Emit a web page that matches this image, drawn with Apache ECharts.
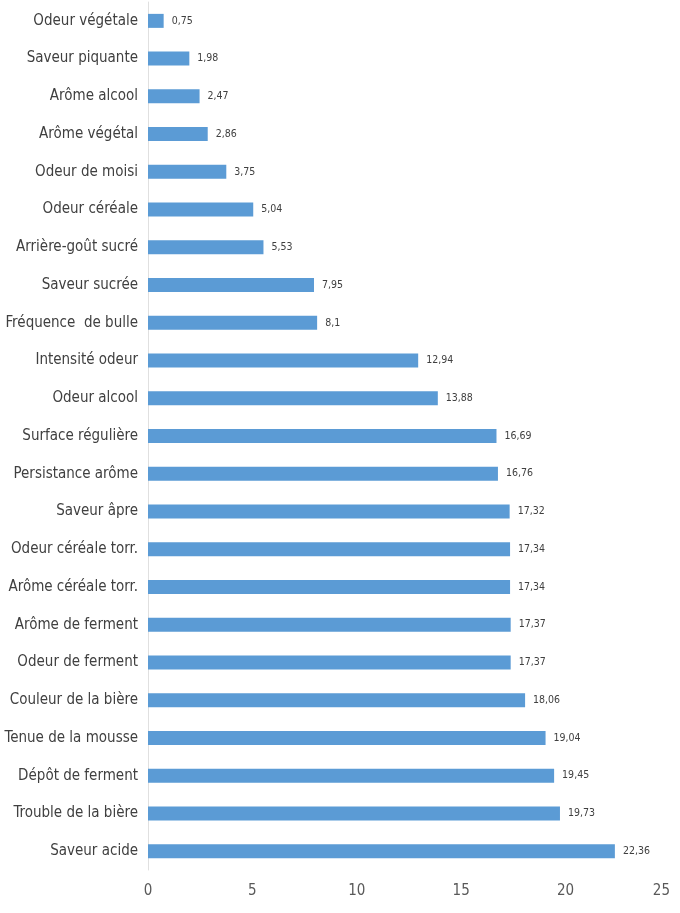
<!DOCTYPE html>
<html><head><meta charset="utf-8">
<script src="https://cdn.jsdelivr.net/npm/echarts@6/dist/echarts.min.js"></script>
<style>html,body{margin:0;padding:0;background:#fff}#c{width:680px;height:913px}</style>
</head><body><div id="c"></div>
<script>
const categories = ["Odeur végétale","Saveur piquante","Arôme alcool","Arôme végétal","Odeur de moisi","Odeur céréale","Arrière-goût sucré","Saveur sucrée","Fréquence  de bulle","Intensité odeur","Odeur alcool","Surface régulière","Persistance arôme","Saveur âpre","Odeur céréale torr.","Arôme céréale torr.","Arôme de ferment","Odeur de ferment","Couleur de la bière","Tenue de la mousse","Dépôt de ferment","Trouble de la bière","Saveur acide"];
const values = [0.75,1.98,2.47,2.86,3.75,5.04,5.53,7.95,8.1,12.94,13.88,16.69,16.76,17.32,17.34,17.34,17.37,17.37,18.06,19.04,19.45,19.73,22.36];
const xTicks = [0,5,10,15,20,25];
const chart = echarts.init(document.getElementById('c'));
const font = '"DejaVu Sans Condensed","Liberation Sans Narrow","Arial Narrow",sans-serif';
chart.setOption({
  animation:false,
  grid:{left:148,right:10,top:2,bottom:43,containLabel:false,outerBoundsMode:'none'},
  xAxis:{type:'value',min:xTicks[0],max:xTicks[xTicks.length-1],interval:5,
    axisLine:{show:false},axisTick:{show:false},splitLine:{show:false},
    axisLabel:{color:'#595959',fontSize:15,fontFamily:font,margin:14,alignMaxLabel:'right'}},
  yAxis:{type:'category',data:categories,inverse:true,
    axisLine:{show:true,lineStyle:{color:'#e0e0e0',width:1}},axisTick:{show:false},
    axisLabel:{color:'#404040',fontSize:15,fontFamily:font,margin:10}},
  series:[{type:'bar',data:values,barWidth:14,itemStyle:{color:'#5b9bd5'},
    label:{show:true,position:'right',distance:8,color:'#404040',fontSize:10.5,fontFamily:font,
      formatter:p=>String(p.value).replace('.',',')}}]
});
</script></body></html>
